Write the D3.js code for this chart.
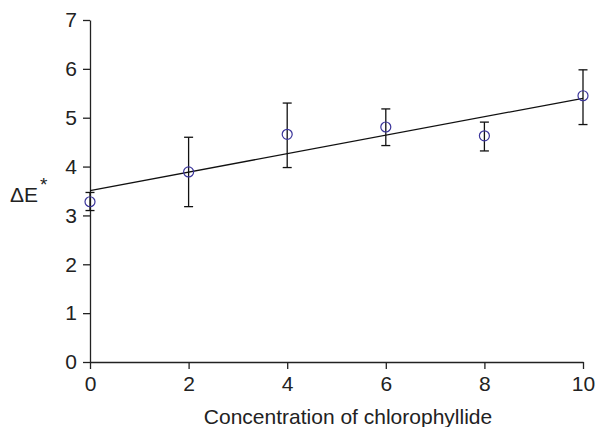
<!DOCTYPE html>
<html>
<head>
<meta charset="utf-8">
<script src="https://cdn.jsdelivr.net/npm/d3@7"></script>
<style>
  body { margin: 0; background: #fff; }
  svg { display: block; font-family: "Liberation Sans", Arial, sans-serif; }
  .axis path, .axis line { stroke: #222; stroke-width: 1.3; }
  .axis text { font-size: 21px; fill: #222; }
</style>
</head>
<body>
<svg id="chart" width="596" height="427"></svg>
<script>
// concentration of chlorophyllide vs colour difference
const conc = [0, 2, 4, 6, 8, 10];
const deltaE = [3.28, 3.89, 4.66, 4.81, 4.63, 5.45];
const errHigh = [3.47, 4.60, 5.30, 5.18, 4.91, 5.98];
const errLow = [3.10, 3.18, 3.98, 4.43, 4.32, 4.86];
const xTicks = [0, 2, 4, 6, 8, 10];
const yTicks = [0, 1, 2, 3, 4, 5, 6, 7];

const svg = d3.select("#chart");
const margin = { top: 20, right: 13, bottom: 65, left: 90 };
const width = 596 - margin.left - margin.right;
const height = 427 - margin.top - margin.bottom;

const g = svg.append("g").attr("transform", `translate(${margin.left},${margin.top})`);

const x = d3.scaleLinear().domain([0, 10]).range([0, width]);
const y = d3.scaleLinear().domain([0, 7]).range([height, 0]);

// axes
g.append("g")
    .attr("class", "axis")
    .attr("transform", `translate(0,${height})`)
    .call(d3.axisBottom(x).tickValues(xTicks).tickFormat(d3.format("d"))
        .tickSize(7).tickSizeOuter(0).tickPadding(7));

g.append("g")
    .attr("class", "axis")
    .call(d3.axisLeft(y).tickValues(yTicks).tickFormat(d3.format("d"))
        .tickSize(7).tickSizeOuter(0).tickPadding(6));

// least squares fit line
const mx = d3.mean(conc), my = d3.mean(deltaE);
const slope = d3.sum(conc, (c, i) => (c - mx) * (deltaE[i] - my)) / d3.sum(conc, c => (c - mx) ** 2);
const icpt = my - slope * mx;

g.append("line")
    .attr("x1", x(0)).attr("y1", y(icpt))
    .attr("x2", x(10)).attr("y2", y(icpt + slope * 10))
    .attr("stroke", "#111").attr("stroke-width", 1.3);

// error bars
const pts = conc.map((c, i) => ({ c, v: deltaE[i], hi: errHigh[i], lo: errLow[i] }));
const eb = g.append("g").attr("stroke", "#111").attr("stroke-width", 1.3);
const cap = 4.5;

eb.selectAll("line.v").data(pts).enter().append("line")
    .attr("x1", d => x(d.c)).attr("x2", d => x(d.c))
    .attr("y1", d => y(d.hi)).attr("y2", d => y(d.lo));
eb.selectAll("line.t").data(pts).enter().append("line")
    .attr("x1", d => x(d.c) - cap).attr("x2", d => x(d.c) + cap)
    .attr("y1", d => y(d.hi)).attr("y2", d => y(d.hi));
eb.selectAll("line.b").data(pts).enter().append("line")
    .attr("x1", d => x(d.c) - cap).attr("x2", d => x(d.c) + cap)
    .attr("y1", d => y(d.lo)).attr("y2", d => y(d.lo));

// points
g.selectAll("circle").data(pts).enter().append("circle")
    .attr("cx", d => x(d.c)).attr("cy", d => y(d.v))
    .attr("r", 5)
    .attr("fill", "none")
    .attr("stroke", "#3a349a")
    .attr("stroke-width", 1.2);

// axis titles
svg.append("text")
    .attr("x", 348)
    .attr("y", 424)
    .attr("text-anchor", "middle")
    .attr("font-size", 21)
    .attr("fill", "#222")
    .text("Concentration of chlorophyllide");

const yl = svg.append("text")
    .attr("x", 10)
    .attr("y", 202)
    .attr("font-size", 21)
    .attr("fill", "#222");
yl.append("tspan").text("ΔE");
yl.append("tspan").attr("font-size", 19).attr("dy", -11).attr("dx", 2).text("*");
</script>
</body>
</html>
